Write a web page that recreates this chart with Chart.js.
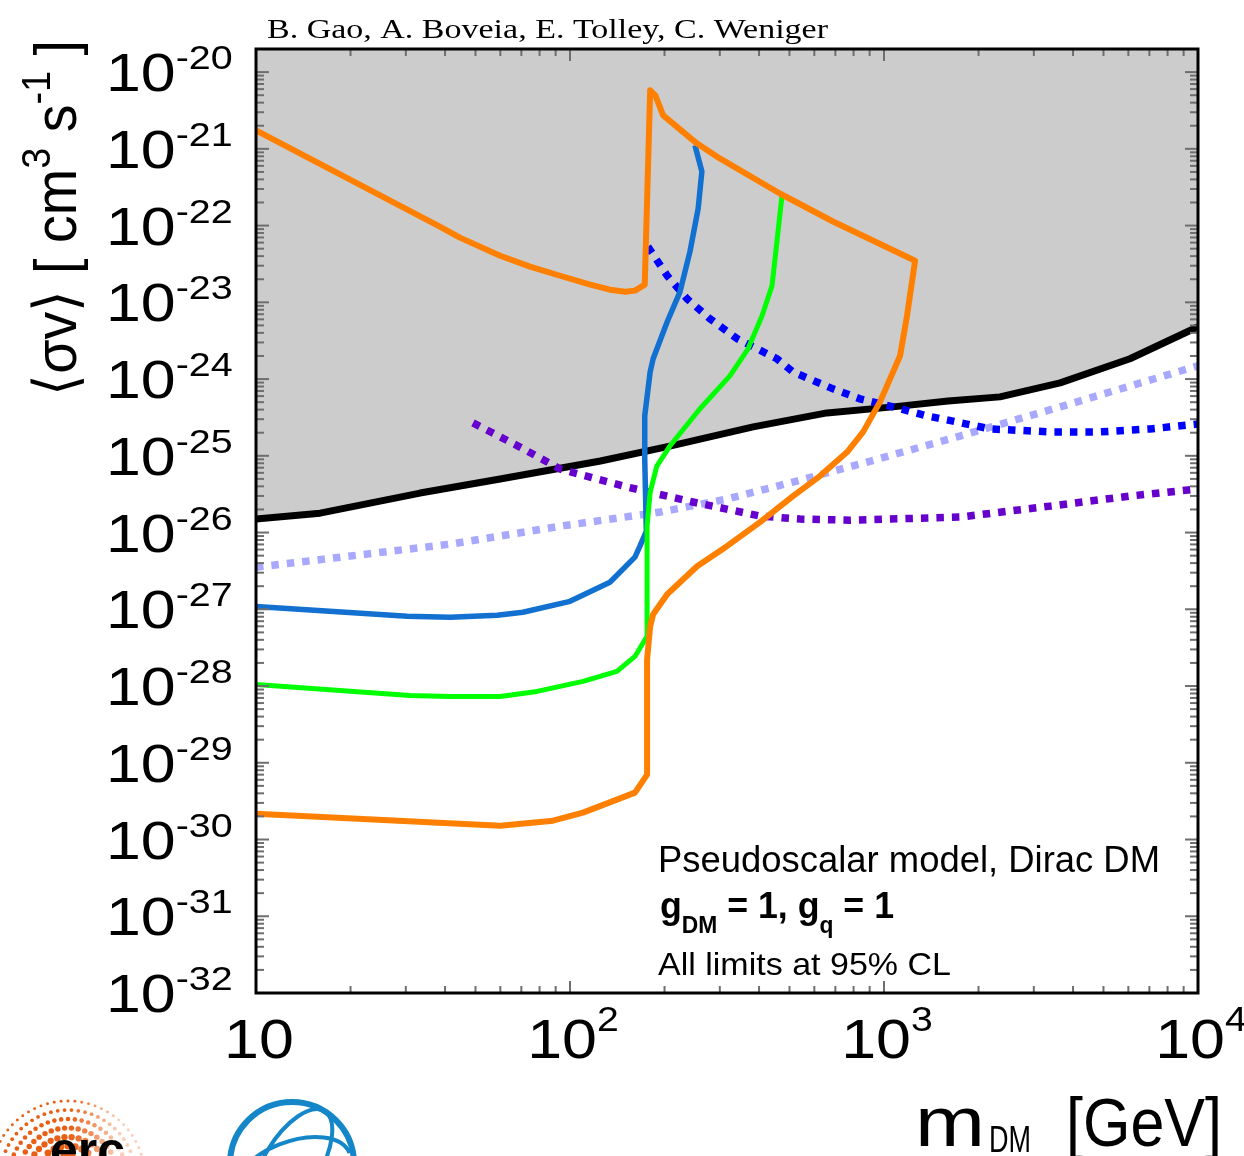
<!DOCTYPE html>
<html>
<head>
<meta charset="utf-8">
<script src="https://cdn.jsdelivr.net/npm/chart.js@4.4.0/dist/chart.umd.min.js"></script>
<style>
  html, body { margin: 0; padding: 0; background: #fff; }
  #wrap { width: 1244px; height: 1156px; position: relative; }
</style>
</head>
<body>
<div id="wrap"><canvas id="plot"></canvas></div>
<script>
// dark matter mass [GeV] and <sigma v> [cm^3 s^-1] for each curve
const orangeMass = [10, 38.5, 44.6, 59.9, 74.6, 93, 116, 134, 150, 161, 173, 180, 187, 198, 254, 300, 466, 688, 1256,
  1184, 1125, 1069, 971, 858, 763, 625, 513, 403, 316, 254, 204, 184, 180, 176, 176, 161, 141, 110, 88.3, 59.9, 10];
const orangeSv = [1.74e-21, 9.70e-23, 6.97e-23, 4.05e-23, 2.92e-23, 2.22e-23, 1.70e-23, 1.46e-23, 1.37e-23, 1.42e-23, 1.70e-23,
  5.78e-21, 4.98e-21, 2.73e-21, 1.17e-21, 7.50e-22, 2.62e-22, 1.13e-22, 3.49e-23,
  6.68e-24, 2.01e-24, 1.24e-24, 5.04e-25, 2.05e-25, 1.12e-25, 5.45e-26, 2.99e-26, 1.37e-26, 6.64e-27,
  3.64e-27, 1.57e-27, 8.61e-28, 6.00e-28, 2.22e-28, 7.02e-30, 4.08e-30, 3.31e-30, 2.24e-30, 1.76e-30, 1.51e-30, 2.17e-30];

const blueMass = [250, 263, 256, 241, 224, 204, 184, 180, 173, 173, 175, 167, 161, 134, 100, 70.8, 58.6, 41.5, 30.3, 10];
const blueSv = [1.11e-21, 5.07e-22, 1.67e-22, 4.58e-23, 1.37e-23, 5.58e-24, 1.84e-24, 1.24e-24, 3.31e-25, 9.08e-26,
  1.04e-26, 6.64e-27, 4.78e-27, 2.25e-27, 1.27e-27, 9.14e-28, 8.36e-28, 7.87e-28, 8.11e-28, 1.09e-27];

const greenMass = [473, 456, 440, 409, 369, 323, 259, 208, 189, 180, 176, 176, 161, 141, 110, 78.5, 59.9, 41.5, 30.9, 10];
const greenSv = [2.39e-22, 6.18e-23, 1.65e-23, 6.68e-24, 2.48e-24, 1.10e-24, 4.08e-25, 1.34e-25, 7.36e-26, 3.37e-26,
  1.21e-26, 4.45e-28, 2.43e-28, 1.55e-28, 1.15e-28, 8.51e-29, 7.31e-29, 7.31e-29, 7.53e-29, 1.05e-28];

const dwarfMass = [10, 16, 33.3, 59.9, 125, 208, 383, 658, 1069, 1600, 2340, 3639, 6072, 10000];
const dwarfSv = [1.50e-26, 1.79e-26, 3.27e-26, 4.98e-26, 8.55e-26, 1.34e-25, 2.38e-25, 3.62e-25, 4.34e-25,
  5.19e-25, 5.86e-25, 8.91e-25, 1.84e-24, 4.80e-24];

const blueDotMass = [177, 204, 236, 279, 341, 456, 513, 688, 839, 1069, 1371, 1707, 2178, 3378, 4876, 7031, 10000];
const blueDotSv = [5.32e-23, 2.22e-23, 1.11e-23, 6.11e-24, 3.35e-24, 1.84e-24, 1.24e-24, 7.45e-25, 5.52e-25,
  4.34e-25, 3.31e-25, 2.76e-25, 2.24e-25, 2.05e-25, 2.05e-25, 2.24e-25, 2.60e-25];

const lightDotMass = [10, 41.5, 93, 194, 316, 513, 839, 1746, 3639, 10000];
const lightDotSv = [3.53e-27, 7.06e-27, 1.21e-26, 1.85e-26, 2.73e-26, 4.55e-26, 7.82e-26, 1.81e-25, 4.34e-25, 1.49e-24];

const purpleDotMass = [49.1, 69.3, 93, 152, 246, 403, 540, 780, 1746, 3378, 6072, 10000];
const purpleDotSv = [2.68e-25, 1.30e-25, 6.73e-26, 3.92e-26, 2.50e-26, 1.64e-26, 1.50e-26, 1.45e-26, 1.59e-26,
  2.21e-26, 2.99e-26, 3.69e-26];

// axis labels
const xTickVals = [10, 100, 1000, 10000];
const xTickSup = ['', '2', '3', '4'];
const yTickExps = [-20, -21, -22, -23, -24, -25, -26, -27, -28, -29, -30, -31, -32];

const SANS = '"Liberation Sans", Arial, Helvetica, sans-serif';
const SX = 1.16; // labels are drawn a bit wide

function pts(xs, ys) {
  return xs.map((x, i) => ({ x: x, y: ys[i] }));
}

function line(ctx, x1, y1, x2, y2) {
  ctx.beginPath();
  ctx.moveTo(x1, y1);
  ctx.lineTo(x2, y2);
  ctx.stroke();
}

// draws a row of [text, font, dy] pieces; width fits the whole row, else sx stretches it
function drawRuns(ctx, parts, x, y, opts) {
  opts = opts || {};
  const widths = parts.map(p => { ctx.font = p[1]; return ctx.measureText(p[0]).width; });
  const total = widths.reduce((a, b) => a + b, 0);
  const sx = opts.width ? opts.width / total : (opts.sx || 1);
  ctx.save();
  ctx.translate(x, y);
  if (opts.rotate) ctx.rotate(opts.rotate);
  if (opts.align === 'center') ctx.translate(-total * sx / 2, 0);
  ctx.scale(sx, opts.sy || 1);
  ctx.textAlign = 'left';
  ctx.textBaseline = 'alphabetic';
  ctx.fillStyle = opts.color || '#000';
  let cx = 0;
  parts.forEach((p, i) => {
    ctx.font = p[1];
    ctx.fillText(p[0], cx, p[2] || 0);
    cx += widths[i];
  });
  ctx.restore();
}

function drawLogos(ctx) {
  // orange dotted badge, bottom left
  const cx = 68, cy = 1178;
  for (let ring = 0; ring < 8; ring++) {
    const r = 14 + ring * 9;
    const n = Math.round(r * 0.45);
    const size = Math.max(1.2, 4.4 - ring * 0.42);
    for (let k = 0; k <= n; k++) {
      const a = Math.PI + (k + (ring % 2) * 0.5) / n * Math.PI;
      const px = cx + r * Math.cos(a), py = cy + r * Math.sin(a);
      if (py > 1156 || py < 1098) continue;
      const fade = Math.min(1, Math.max(0.3, 1 - (px - 70) / 70));
      ctx.fillStyle = 'rgba(232, 96, 22,' + fade.toFixed(2) + ')';
      ctx.beginPath();
      ctx.arc(px, py, size, 0, Math.PI * 2);
      ctx.fill();
    }
  }
  ctx.fillStyle = '#000';
  ctx.font = 'bold 50px ' + SANS;
  ctx.fillText('erc', 50, 1167);

  // blue globe
  ctx.save();
  ctx.strokeStyle = '#1587c8';
  ctx.lineWidth = 6;
  ctx.beginPath();
  ctx.arc(292, 1164, 62, 0, Math.PI * 2);
  ctx.stroke();
  ctx.lineWidth = 4;
  ctx.beginPath();
  ctx.ellipse(292, 1176, 62, 34, -0.38, Math.PI, Math.PI * 2);
  ctx.stroke();
  ctx.beginPath();
  ctx.ellipse(292, 1164, 28, 62, 0.55, 0, Math.PI * 2);
  ctx.stroke();
  ctx.restore();
}

const decor = {
  id: 'decor',
  afterDraw(chart) {
    const ctx = chart.ctx;
    const { left: L, right: R, top: T, bottom: B } = chart.chartArea;
    const xs = chart.scales.x, ys = chart.scales.y;

    // tick marks on all four sides
    ctx.save();
    ctx.strokeStyle = '#6e6e6e';
    ctx.lineWidth = 2;
    for (let e = -32; e <= -20; e++) {
      for (let m = 1; m <= 9; m++) {
        const v = m * Math.pow(10, e);
        const p = ys.getPixelForValue(v);
        if (p < T + 1.5 || p > B + 0.5) continue;
        const len = m === 1 ? 13 : 8;
        line(ctx, L, p, L + len, p);
        line(ctx, R - len, p, R, p);
      }
    }
    for (let e = 1; e <= 4; e++) {
      for (let m = 1; m <= 9; m++) {
        const v = m * Math.pow(10, e);
        if (v > 10000) break;
        const p = xs.getPixelForValue(v);
        const len = m === 1 ? 12 : 7;
        line(ctx, p, B, p, B - len);
        line(ctx, p, T, p, T + len);
      }
    }
    ctx.strokeStyle = '#000';
    ctx.lineWidth = 3;
    ctx.strokeRect(L, T, R - L, B - T);
    ctx.restore();

    // y tick labels
    yTickExps.forEach(e => {
      const p = ys.getPixelForValue(Math.pow(10, e));
      drawRuns(ctx, [['10', '54px ' + SANS], ['-' + (-e), '34px ' + SANS, -22]], 106, p + 19, { sx: SX });
    });

    // x tick labels
    xTickVals.forEach((v, i) => {
      const p = xs.getPixelForValue(v);
      const parts = [['10', '56px ' + SANS]];
      if (xTickSup[i]) parts.push([xTickSup[i], '35px ' + SANS, -27]);
      drawRuns(ctx, parts, p + 3, 1058, { sx: 1.12, align: 'center' });
    });

    // axis titles
    drawRuns(ctx, [['m', '70px ' + SANS]], 915, 1146, { width: 70 });
    drawRuns(ctx, [['DM', '36px ' + SANS]], 989, 1152, { width: 42 });
    drawRuns(ctx, [['[GeV]', '68px ' + SANS]], 1066, 1146, { width: 156 });

    drawRuns(ctx, [
      ['\u27E8\u03C3v\u27E9 [ cm', '50px ' + SANS],
      ['3', '34px ' + SANS, -22],
      [' s', '50px ' + SANS],
      ['-1', '34px ' + SANS, -22],
      [' ]', '50px ' + SANS]
    ], 76, 396, { rotate: -Math.PI / 2, width: 356, sy: 1.2 });

    // author line
    drawRuns(ctx, [['B. Gao, A. Boveia, E. Tolley, C. Weniger', '28px "Liberation Serif", "Times New Roman", serif']],
      267, 38, { width: 561 });

    // model notes
    drawRuns(ctx, [['Pseudoscalar model, Dirac DM', '36px ' + SANS]], 658, 872, { width: 502 });
    const bold = 'bold 36px ' + SANS, boldSub = 'bold 23px ' + SANS;
    drawRuns(ctx, [
      ['g', bold], ['DM', boldSub, 15], [' = 1, g', bold], ['q', boldSub, 15], [' = 1', bold]
    ], 660, 918, { width: 234 });
    drawRuns(ctx, [['All limits at 95% CL', '32px ' + SANS]], 658, 975, { width: 293 });

    drawLogos(ctx);
  }
};

const solid = (label, data, color, width, order) => ({
  label: label, data: data, showLine: true, borderColor: color, borderWidth: width,
  pointRadius: 0, tension: 0, fill: false, order: order, borderJoinStyle: 'round'
});
const dotted = (label, data, color, order) => ({
  label: label, data: data, showLine: true, borderColor: color, borderWidth: 7.5,
  borderDash: [7.5, 8], borderCapStyle: 'butt', pointRadius: 0, tension: 0, fill: false, order: order
});

const dwarfSet = solid('dwarfs', pts(dwarfMass, dwarfSv), '#000000', 7, 6);
dwarfSet.fill = 'end';
dwarfSet.backgroundColor = '#cccccc';

new Chart(document.getElementById('plot'), {
  type: 'scatter',
  data: {
    datasets: [
      solid('orange', pts(orangeMass, orangeSv), '#ff8000', 6, 0),
      solid('green', pts(greenMass, greenSv), '#00ff00', 5, 1),
      solid('blue', pts(blueMass, blueSv), '#1170d0', 5.5, 2),
      dotted('blue dotted', pts(blueDotMass, blueDotSv), '#0000ff', 3),
      dotted('purple dotted', pts(purpleDotMass, purpleDotSv), '#6600cc', 4),
      dotted('light dotted', pts(lightDotMass, lightDotSv), '#a8a8ff', 5),
      dwarfSet
    ]
  },
  options: {
    responsive: true,
    maintainAspectRatio: false,
    animation: false,
    layout: { padding: { left: 256, right: 46, top: 49, bottom: 163 } },
    plugins: { legend: { display: false }, tooltip: { enabled: false } },
    scales: {
      x: {
        type: 'logarithmic', min: 10, max: 10000,
        ticks: { display: false }, grid: { display: false }, border: { display: false },
        afterFit: s => { s.height = 0; }
      },
      y: {
        type: 'logarithmic', min: 1e-32, max: 2e-20,
        ticks: { display: false }, grid: { display: false }, border: { display: false },
        afterFit: s => { s.width = 0; }
      }
    }
  },
  plugins: [decor]
});
</script>
</body>
</html>
